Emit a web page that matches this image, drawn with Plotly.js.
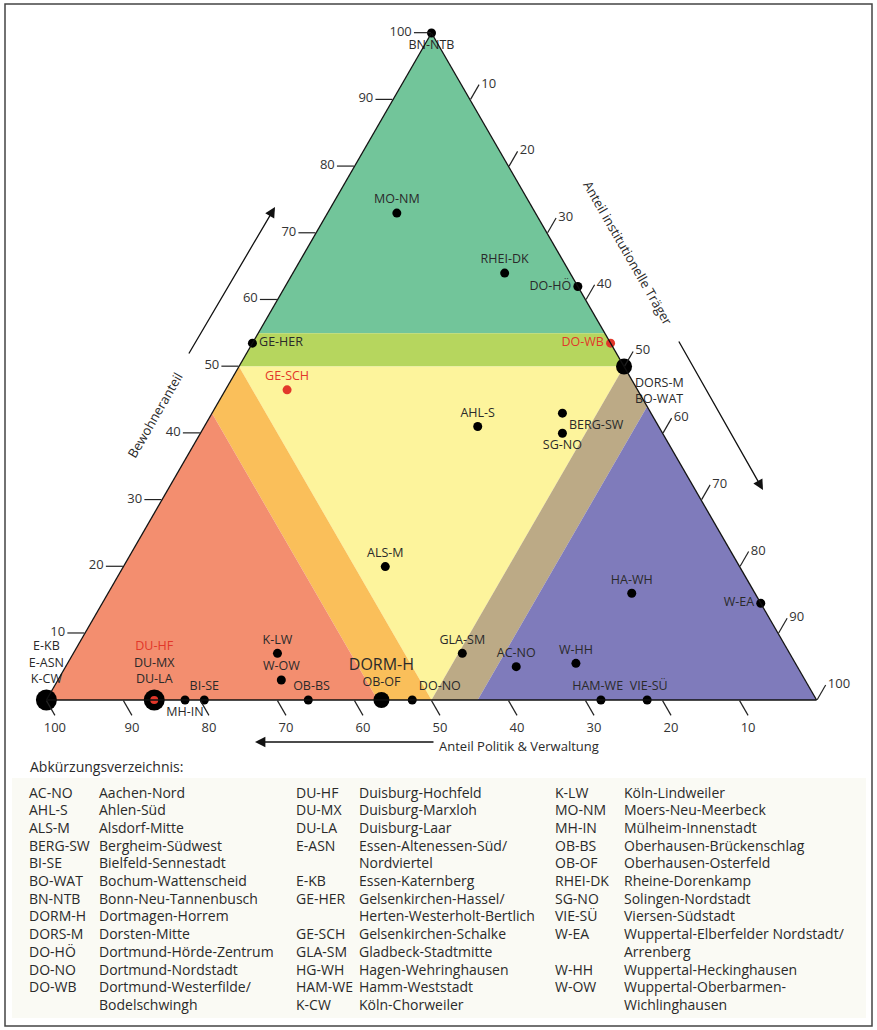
<!DOCTYPE html>
<html><head><meta charset="utf-8">
<script src="https://cdn.plot.ly/plotly-3.0.1.min.js"></script>
<style>html,body{margin:0;padding:0;background:#fff}#chart{width:877px;height:1030px}</style>
</head><body><div id="chart"></div>
<script>
// ---------- Daten ----------
const sites = ['BN-NTB','MO-NM','RHEI-DK','DO-HÖ','GE-HER','DO-WB','DORS-M','BO-WAT','GE-SCH','AHL-S','BERG-SW','SG-NO','ALS-M','HA-WH','W-EA','W-HH','GLA-SM','AC-NO','HAM-WE','VIE-SÜ','DO-NO','DORM-H','OB-OF','OB-BS','K-LW','W-OW','BI-SE','MH-IN','DU-HF','DU-MX','DU-LA','E-KB','E-ASN','K-CW'];
const bewohner       = [100, 73, 64, 62, 53.5, 53.5, 50, 50, 46.5, 41, 43, 40, 20, 16, 14.5, 5.5, 7, 5, 0, 0, 0, 0, 0, 0, 7, 3, 0, 0, 0, 0, 0, 0, 0, 0];
const politik        = [0, 18, 8.5, 0, 46.5, 0, 0, 0, 45.5, 23.5, 11.5, 13, 46, 16, 0, 28.5, 42.5, 36.5, 28, 22, 52.5, 56.5, 56.5, 66, 66.5, 68, 79.5, 82, 86, 86, 86, 100, 100, 100];
const institutionell = [0, 9, 27.5, 38, 0, 46.5, 50, 50, 8, 35.5, 45.5, 47, 34, 68, 85.5, 66, 50.5, 58.5, 72, 78, 47.5, 43.5, 43.5, 34, 26.5, 29, 20.5, 18, 14, 14, 14, 0, 0, 0];
const hervorgehoben = ['DU-HF','GE-SCH','DO-WB'];
const tickWerte = [10, 20, 30, 40, 50, 60, 70, 80, 90, 100];
// Zonengrenzen (Prozent)
const grenzeGruen = 55, grenzeLime = 50, grenzeMitte = 50, grenzeRot = 57, grenzeBlau = 56;

// Abkürzungsverzeichnis
const abkKuerzel1 = ['AC-NO','AHL-S','ALS-M','BERG-SW','BI-SE','BO-WAT','BN-NTB','DORM-H','DORS-M','DO-HÖ','DO-NO','DO-WB',''];
const abkName1 = ['Aachen-Nord','Ahlen-Süd','Alsdorf-Mitte','Bergheim-Südwest','Bielfeld-Sennestadt','Bochum-Wattenscheid','Bonn-Neu-Tannenbusch','Dortmagen-Horrem','Dorsten-Mitte','Dortmund-Hörde-Zentrum','Dortmund-Nordstadt','Dortmund-Westerfilde/','Bodelschwingh'];
const abkKuerzel2 = ['DU-HF','DU-MX','DU-LA','E-ASN','','E-KB','GE-HER','','GE-SCH','GLA-SM','HG-WH','HAM-WE','K-CW'];
const abkName2 = ['Duisburg-Hochfeld','Duisburg-Marxloh','Duisburg-Laar','Essen-Altenessen-Süd/','Nordviertel','Essen-Katernberg','Gelsenkirchen-Hassel/','Herten-Westerholt-Bertlich','Gelsenkirchen-Schalke','Gladbeck-Stadtmitte','Hagen-Wehringhausen','Hamm-Weststadt','Köln-Chorweiler'];
const abkKuerzel3 = ['K-LW','MO-NM','MH-IN','OB-BS','OB-OF','RHEI-DK','SG-NO','VIE-SÜ','W-EA','','W-HH','W-OW',''];
const abkName3 = ['Köln-Lindweiler','Moers-Neu-Meerbeck','Mülheim-Innenstadt','Oberhausen-Brückenschlag','Oberhausen-Osterfeld','Rheine-Dorenkamp','Solingen-Nordstadt','Viersen-Südstadt','Wuppertal-Elberfelder Nordstadt/','Arrenberg','Wuppertal-Heckinghausen','Wuppertal-Oberbarmen-','Wichlinghausen'];

// ---------- Stil ----------
const FONT = 'Open Sans, sans-serif';
const TXT = '#2a2a2a';
const RED = '#e2372a';
const labelPos = {
  'BN-NTB':'bottom center','MO-NM':'top center','RHEI-DK':'top center','DO-HÖ':'middle left',
  'GE-HER':'middle right','DO-WB':'middle left','DORS-M':'bottom right','GE-SCH':'top center',
  'AHL-S':'top center','BERG-SW':'bottom right','SG-NO':'bottom center','ALS-M':'top center',
  'HA-WH':'top center','W-EA':'middle left','W-HH':'top center','GLA-SM':'top center',
  'AC-NO':'top center','HAM-WE':'top center','VIE-SÜ':'top center','DO-NO':'top right',
  'DORM-H':'top center','OB-BS':'top center','K-LW':'top center','W-OW':'top center',
  'BI-SE':'top center','MH-IN':'bottom center','DU-HF':'top center','E-KB':'top center'
};
// kleine Verschiebung der Beschriftung (Leerzeichen links/rechts)
const padLeft = {'VIE-SÜ':1, 'OB-BS':2, 'DO-NO':0};
const padRight = {'HAM-WE':2};

// ---------- Gruppen gleicher Lage ----------
const groups = [];
const keyIdx = {};
sites.forEach((s, i) => {
  const k = bewohner[i] + '|' + politik[i] + '|' + institutionell[i];
  if (!(k in keyIdx)) { keyIdx[k] = groups.length; groups.push([]); }
  groups[keyIdx[k]].push(i);
});
const sizeFor = n => n === 1 ? 9 : (n === 2 ? 16 : 21);

const gA = [], gB = [], gC = [], gSize = [], gColor = [], gText = [], gPos = [];
const rA = [], rB = [], rC = [];
groups.forEach(g => {
  const i0 = g[0];
  gA.push(bewohner[i0]); gB.push(politik[i0]); gC.push(institutionell[i0]);
  gSize.push(sizeFor(g.length));
  const hasRed = g.some(i => hervorgehoben.includes(sites[i]));
  gColor.push(hasRed && g.length === 1 ? RED : '#000');
  if (hasRed && g.length > 1) { rA.push(bewohner[i0]); rB.push(politik[i0]); rC.push(institutionell[i0]); }
  const lines = g.map(i => {
    const n = sites[i];
    let t = n;
    if (hervorgehoben.includes(n)) t = '<span style="color:' + RED + '">' + n + '</span>';
    else if (n === 'DORM-H') t = '<span style="font-size:16px">' + n + '</span>';
    t = '&nbsp;'.repeat(padLeft[n] || 0) + t + '&nbsp;'.repeat(padRight[n] || 0);
    return t;
  });
  gText.push(lines.join('<br>'));
  gPos.push(labelPos[sites[i0]] || 'top center');
});

// ---------- Zonen ----------
function zone(pts, color) {
  return {
    type: 'scatterternary', mode: 'lines', fill: 'toself', fillcolor: color,
    a: pts.map(p => p[0]), b: pts.map(p => p[1]), c: pts.map(p => p[2]),
    line: {width: 0, color: color}, hoverinfo: 'skip', showlegend: false
  };
}
const G = grenzeGruen, L = grenzeLime, M = grenzeMitte, R = grenzeRot, B = grenzeBlau;
const traces = [
  zone([[100,0,0],[G,100-G,0],[G,0,100-G]], '#72c59a'),
  zone([[G,100-G,0],[L,100-L,0],[L,0,100-L],[G,0,100-G]], '#b6d65e'),
  zone([[M,M,0],[M,0,M],[0,M,M]], '#fdf49c'),
  zone([[M,M,0],[100-R,R,0],[0,R,100-R],[0,M,M]], '#fabf5a'),
  zone([[100-R,R,0],[0,100,0],[0,R,100-R]], '#f38e6f'),
  zone([[M,0,M],[100-B,0,B],[0,100-B,B],[0,M,M]], '#bcaa86'),
  zone([[100-B,0,B],[0,0,100],[0,100-B,B]], '#7f7bbb'),
  {
    type: 'scatterternary', mode: 'markers+text', a: gA, b: gB, c: gC,
    marker: {size: gSize, color: gColor, opacity: 1, line: {width: 0}},
    text: gText, textposition: gPos, cliponaxis: false,
    textfont: {family: FONT, size: 12.5, color: TXT},
    hoverinfo: 'skip', showlegend: false
  },
  {
    type: 'scatterternary', mode: 'markers', a: rA, b: rB, c: rC,
    marker: {size: 8, color: RED, opacity: 1}, cliponaxis: false, hoverinfo: 'skip', showlegend: false
  }
];

// ---------- Layout ----------
const ML = 45, MR = 59, MT = 33, MB = 330, W = 877, H = 1030;
const PW = W - ML - MR, PH = H - MT - MB;
const px = x => (x - ML) / PW;
const py = y => (H - MB - y) / PH;

function axisCfg() {
  return {
    title: {text: ''}, tickmode: 'array', tickvals: tickWerte, ticks: 'outside',
    ticklen: 17, tickwidth: 1.2, tickcolor: '#222', linecolor: '#111', linewidth: 1.3,
    showline: true, showgrid: false, layer: 'above traces',
    tickfont: {family: FONT, size: 13, color: '#333'}
  };
}

const annotations = [
  {xref:'paper', yref:'paper', x: px(155), y: py(415), xanchor: 'center', yanchor: 'middle',
   text: 'Bewohneranteil', showarrow: false, textangle: -60, font: {family: FONT, size: 13, color: TXT}},
  {xref:'paper', yref:'paper', x: px(628), y: py(253), xanchor: 'center', yanchor: 'middle',
   text: 'Anteil institutionelle Träger', showarrow: false, textangle: 60, font: {family: FONT, size: 13, color: TXT}},
  {xref:'paper', yref:'paper', x: px(437), y: py(746), xanchor: 'left', yanchor: 'middle',
   text: 'Anteil Politik &amp; Verwaltung', showarrow: false, font: {family: FONT, size: 13, color: TXT}},
  {xref:'paper', yref:'paper', x: px(275), y: py(207), ax: -87, ay: 148, text: '', showarrow: true,
   arrowhead: 2, arrowsize: 1.6, arrowwidth: 1.3, arrowcolor: '#111'},
  {xref:'paper', yref:'paper', x: px(763), y: py(490), ax: -85, ay: -150, text: '', showarrow: true,
   arrowhead: 2, arrowsize: 1.6, arrowwidth: 1.3, arrowcolor: '#111'},
  {xref:'paper', yref:'paper', x: px(255), y: py(742), ax: 180, ay: 0, text: '', showarrow: true,
   arrowhead: 2, arrowsize: 1.6, arrowwidth: 1.3, arrowcolor: '#111'},
  {xref:'paper', yref:'paper', x: px(28), y: py(766), xanchor: 'left', yanchor: 'middle',
   text: 'Abkürzungsverzeichnis:', showarrow: false, font: {family: FONT, size: 14, color: TXT}}
];
function legendCol(kuerzel, namen, xk, xn) {
  kuerzel.forEach((k, i) => {
    const y = py(792 + i * 17.7);
    if (k) annotations.push({xref:'paper', yref:'paper', x: px(xk), y: y, xanchor:'left', yanchor:'middle',
      text: k, showarrow: false, font: {family: FONT, size: 14, color: TXT}});
    annotations.push({xref:'paper', yref:'paper', x: px(xn), y: y, xanchor:'left', yanchor:'middle',
      text: namen[i], showarrow: false, font: {family: FONT, size: 14, color: TXT}});
  });
}
legendCol(abkKuerzel1, abkName1, 27, 97);
legendCol(abkKuerzel2, abkName2, 294, 357);
legendCol(abkKuerzel3, abkName3, 553, 622);

const layout = {
  width: W, height: H,
  margin: {l: ML, r: MR, t: MT, b: MB},
  paper_bgcolor: '#fff',
  showlegend: false,
  font: {family: FONT, color: TXT},
  ternary: {
    sum: 100, bgcolor: 'rgba(0,0,0,0)',
    aaxis: axisCfg(), baxis: axisCfg(), caxis: axisCfg()
  },
  shapes: [
    {type:'rect', xref:'paper', yref:'paper', x0: px(12), x1: px(866), y0: py(778), y1: py(1018),
     fillcolor: '#fafaf4', line: {width: 0}, layer: 'below'},
    {type:'rect', xref:'paper', yref:'paper', x0: px(5), x1: px(872), y0: py(4), y1: py(1026),
     line: {color: '#444', width: 1.5}, fillcolor: 'rgba(0,0,0,0)'}
  ],
  annotations: annotations
};

Plotly.newPlot('chart', traces, layout, {displayModeBar: false, staticPlot: true});
</script>
</body></html>
